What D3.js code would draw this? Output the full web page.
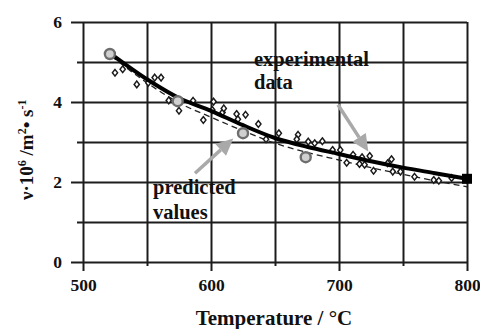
<!DOCTYPE html>
<html>
<head>
<meta charset="utf-8">
<script src="https://cdn.jsdelivr.net/npm/d3@7"></script>
<style>
  body { margin: 0; background: #fff; }
  svg { display: block; }
  svg text { font-family: "Liberation Serif", "Times New Roman", serif; font-weight: bold; }
</style>
</head>
<body>
<div id="chart"></div>
<script>
// fitted curve (solid) and its dashed companion
const curveT = [522, 550, 575, 600, 625, 650, 675, 700, 725, 750, 775, 800];
const curveV = [5.2, 4.57, 4.1, 3.78, 3.42, 3.1, 2.88, 2.7, 2.52, 2.36, 2.22, 2.08];
const dashV  = [5.15, 4.48, 3.98, 3.62, 3.28, 2.97, 2.74, 2.55, 2.36, 2.19, 2.03, 1.88];

// predicted values (gray rings)
const predT = [521, 574, 625, 674];
const predV = [5.2, 4.02, 3.22, 2.62];

// experimental data (small diamonds)
const expT = [525, 531, 542, 551, 556, 561, 567, 575, 586, 594, 602, 601, 609, 610, 620, 627, 637, 621,
              643, 653, 668, 667, 676, 681, 687, 695, 701, 711, 718, 724, 706, 716, 720, 727, 741, 738,
              742, 748, 759, 774, 778, 788];
const expV = [4.73, 4.82, 4.44, 4.48, 4.61, 4.61, 4.04, 3.78, 4.03, 3.55, 4.01, 3.8, 3.74, 3.84, 3.7, 3.68, 3.45, 3.57,
              3.07, 3.22, 3.18, 3.07, 3.01, 2.97, 3.02, 2.8, 2.8, 2.68, 2.62, 2.65, 2.48, 2.45, 2.43, 2.28, 2.57, 2.47,
              2.26, 2.26, 2.13, 2.05, 2.03, 2.1];

const xMajor = [500, 600, 700, 800];
const xMinor = [550, 650, 750];
const yMajor = [0, 2, 4, 6];
const yMinor = [1, 3, 5];

const W = 480, H = 329;
const serif = '"Liberation Serif", "Times New Roman", serif';
const gridColor = '#1c1c1c';
const arrowColor = '#a9a9a9';

const svg = d3.select('#chart').append('svg')
  .attr('width', W).attr('height', H);

const x = d3.scaleLinear().domain([500, 800]).range([83, 467]);
const y = d3.scaleLinear().domain([0, 6]).range([262, 22]);

function styleAxis(g, size) {
  g.attr('font-family', serif).attr('font-size', size).attr('font-weight', 'bold');
  g.select('.domain').remove();
  g.selectAll('.tick line').attr('stroke', gridColor).attr('stroke-width', 2);
  g.selectAll('.tick text').attr('fill', '#111');
}

// horizontal grid
svg.append('g')
  .attr('transform', 'translate(77,0)')
  .call(d3.axisLeft(y).tickValues(yMinor).tickSize(-(467 - 77)).tickFormat(''))
  .call(g => styleAxis(g, 17.5));

svg.append('g')
  .attr('transform', 'translate(71,0)')
  .call(d3.axisLeft(y).tickValues(yMajor).tickSize(-(467 - 71)).tickPadding(9).tickFormat(d3.format('d')))
  .call(g => styleAxis(g, 17.5));

// vertical grid
svg.append('g')
  .attr('transform', 'translate(0,266)')
  .call(d3.axisBottom(x).tickValues(xMinor).tickSize(-(266 - 22)).tickFormat(''))
  .call(g => styleAxis(g, 17.5));

svg.append('g')
  .attr('transform', 'translate(0,271)')
  .call(d3.axisBottom(x).tickValues(xMajor).tickSize(-(271 - 22)).tickPadding(8).tickFormat(d3.format('d')))
  .call(g => styleAxis(g, 17.5));

// dashed curve
const dashData = curveT.map((t, i) => [t, dashV[i]]);
const solidData = curveT.map((t, i) => [t, curveV[i]]);
const line = d3.line().x(d => x(d[0])).y(d => y(d[1])).curve(d3.curveMonotoneX);

svg.append('path')
  .datum(dashData)
  .attr('d', line)
  .attr('fill', 'none')
  .attr('stroke', '#222')
  .attr('stroke-width', 1.3)
  .attr('stroke-dasharray', '6,4');

// experimental diamonds
const diamond = d3.symbol(d3.symbolDiamond, 18);
svg.append('g').selectAll('path')
  .data(expT.map((t, i) => [t, expV[i]]))
  .join('path')
  .attr('d', diamond)
  .attr('transform', d => `translate(${x(d[0])},${y(d[1])}) scale(1.15,0.85)`)
  .attr('fill', '#fff')
  .attr('stroke', '#1a1a1a')
  .attr('stroke-width', 1.4);

// solid curve
svg.append('path')
  .datum(solidData)
  .attr('d', line)
  .attr('fill', 'none')
  .attr('stroke', '#000')
  .attr('stroke-width', 4);

// end square
svg.append('rect')
  .attr('x', x(800) - 5).attr('y', y(curveV[curveV.length - 1]) - 5)
  .attr('width', 10).attr('height', 10)
  .attr('fill', '#000');

// predicted rings
svg.append('g').selectAll('circle')
  .data(predT.map((t, i) => [t, predV[i]]))
  .join('circle')
  .attr('cx', d => x(d[0]))
  .attr('cy', d => y(d[1]))
  .attr('r', 5)
  .attr('fill', '#d0d0d0')
  .attr('stroke', '#6e6e6e')
  .attr('stroke-width', 2.4);

// arrows
function arrow(t0, v0, t1, v1) {
  const x0 = x(t0), y0 = y(v0), x1 = x(t1), y1 = y(v1);
  const a = Math.atan2(y1 - y0, x1 - x0);
  const len = 17, hw = 8;
  const bx = x1 - len * Math.cos(a), by = y1 - len * Math.sin(a);
  svg.append('line')
    .attr('x1', x0).attr('y1', y0).attr('x2', bx).attr('y2', by)
    .attr('stroke', arrowColor).attr('stroke-width', 3.5);
  svg.append('path')
    .attr('d', `M${x1},${y1}L${bx + hw * Math.sin(a)},${by - hw * Math.cos(a)}L${bx - hw * Math.sin(a)},${by + hw * Math.cos(a)}Z`)
    .attr('fill', arrowColor);
}
arrow(587.5, 2.22, 617.4, 3.09);
arrow(699.2, 3.93, 722.9, 2.76);

// annotations
function label(t, v, txt) {
  svg.append('text')
    .attr('x', x(t)).attr('y', y(v))
    .attr('font-size', 20.5)
    .attr('fill', '#111')
    .text(txt);
}
label(633.6, 4.91, 'experimental');
label(633.6, 4.32, 'data');
label(554.7, 1.69, 'predicted');
label(554.7, 1.07, 'values');

// axis titles
svg.append('text')
  .attr('x', 274).attr('y', 325)
  .attr('text-anchor', 'middle')
  .attr('font-size', 21)
  .attr('fill', '#111')
  .text('Temperature / °C');

const yt = svg.append('text')
  .attr('transform', 'translate(33,200) rotate(-90)')
  .attr('font-size', 19)
  .attr('fill', '#111');
yt.append('tspan').text('ν·10');
yt.append('tspan').attr('dy', -7).attr('font-size', 12).text('6');
yt.append('tspan').attr('dy', 7).text(' /m');
yt.append('tspan').attr('dy', -7).attr('font-size', 12).text('2');
yt.append('tspan').attr('dy', 7).text('• s');
yt.append('tspan').attr('dy', -7).attr('font-size', 12).text('-1');
</script>
</body>
</html>
